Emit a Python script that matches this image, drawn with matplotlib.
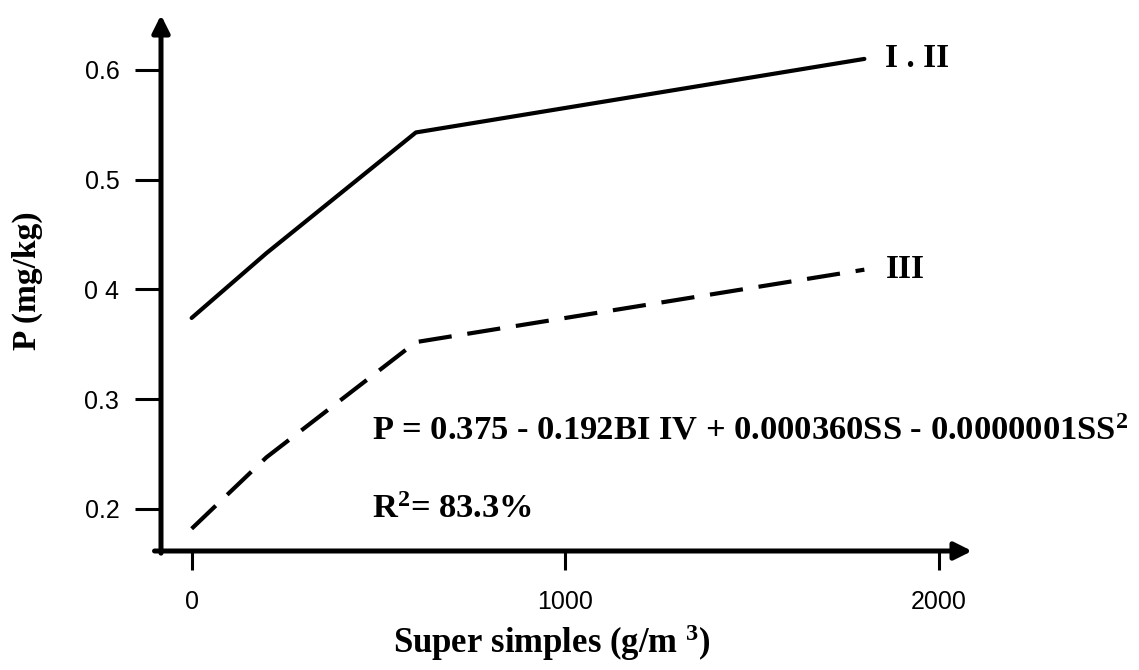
import matplotlib
matplotlib.use("Agg")
import matplotlib.pyplot as plt

# values
ss = [0, 200, 600, 1800]
p_I_II = [0.374, 0.433, 0.543, 0.610]
p_III = [0.182, 0.247, 0.352, 0.418]
xticks = [0, 1000, 2000]
yticks = [0.2, 0.3, 0.4, 0.5, 0.6]
ytick_labels = ["0.2", "0.3", "0 4", "0.5", "0.6"]

plt.rcParams["mathtext.fontset"] = "custom"
plt.rcParams["mathtext.rm"] = "Liberation Serif:bold"
plt.rcParams["mathtext.default"] = "rm"

W, H = 1139, 670
fig = plt.figure(figsize=(W / 100, H / 100), dpi=100)
# axes box in pixels: left 161, right 972, top 15, bottom 551
ax = fig.add_axes([161 / W, 1 - 551 / H, (972 - 161) / W, (551 - 15) / H])
ax.set_xlim(-82, 2088)
ax.set_ylim(0.1617, 0.650)

for s in ax.spines.values():
    s.set_visible(False)

# axes drawn as arrows, like the original
arrow = dict(arrowstyle="-|>", lw=3.6, color="black", mutation_scale=26,
             shrinkA=0, shrinkB=0)
ax.annotate("", xy=(0, 1), xytext=(0, -0.004), xycoords="axes fraction",
            arrowprops=arrow)
ax.annotate("", xy=(1, 0), xytext=(-0.008, 0), xycoords="axes fraction",
            arrowprops=arrow)

ax.plot(ss, p_I_II, color="black", lw=3, solid_capstyle="round",
        solid_joinstyle="round")
ax.plot(ss, p_III, color="black", lw=3, dashes=(8, 3.8))

ax.set_xticks(xticks)
ax.set_xticklabels([str(v) for v in xticks])
ax.set_yticks(yticks)
ax.set_yticklabels(ytick_labels)
ax.tick_params(axis="y", direction="out", length=19, width=2.2, pad=11,
               labelsize=18)
ax.tick_params(axis="x", direction="out", length=14, width=2.2, pad=14,
               labelsize=18)
for lab in ax.get_xticklabels() + ax.get_yticklabels():
    lab.set_family("Liberation Sans")

serif = dict(family="Liberation Serif", fontweight="bold", color="black")
ax.text(1855, 0.610, "I . II", fontsize=24, va="center", **serif)
ax.text(1858, 0.418, "III", fontsize=24, va="center", **serif)

ax.text(482, 0.2636, "P = 0.375 - 0.192BI IV + 0.000360SS - 0.0000001SS$^2$",
        fontsize=24.8, va="baseline", **serif)
ax.text(482, 0.1918, "R$^2$= 83.3%", fontsize=24.8, va="baseline", **serif)

ax.set_ylabel("P (mg/kg)", fontsize=24, **serif)
ax.yaxis.set_label_coords(-0.145, 0.504)
ax.set_xlabel("Super simples (g/m $^3$)", fontsize=25, va="baseline", **serif)
ax.xaxis.set_label_coords(0.482, -0.19)

fig.savefig("out.png", dpi=100)
